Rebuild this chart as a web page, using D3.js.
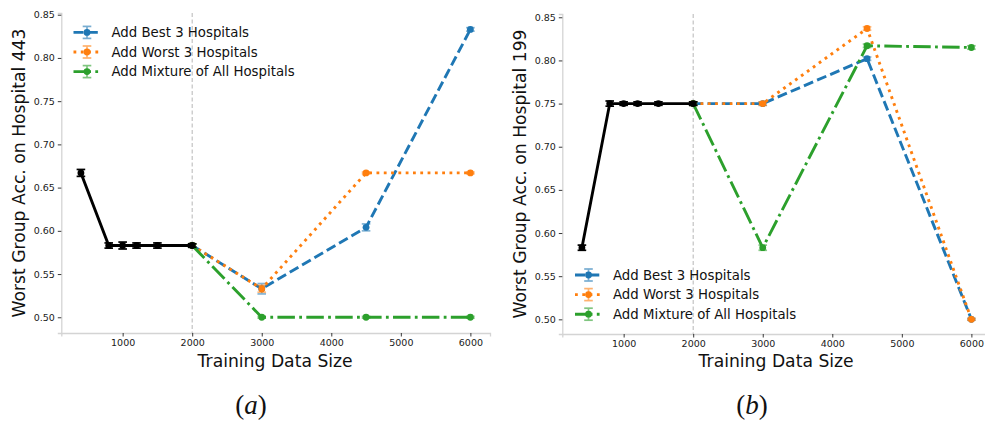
<!DOCTYPE html>
<html><head><meta charset="utf-8">
<script src="https://cdn.jsdelivr.net/npm/d3@7"></script>
<style>body{margin:0;background:#fff;} svg{display:block;}</style>
</head><body>
<svg id="chart" width="985" height="422"></svg>
<script>
// ---------- DATA ----------
const sizesBase = [400, 800, 1000, 1200, 1500, 2000];
const sizesAdd = [2000, 3000, 4500, 6000];
const xTicks = [1000, 2000, 3000, 4000, 5000, 6000];
const yTicks = [0.50, 0.55, 0.60, 0.65, 0.70, 0.75, 0.80, 0.85];
const seriesNames = ["Add Best 3 Hospitals", "Add Worst 3 Hospitals", "Add Mixture of All Hospitals"];

// Panel (a): Hospital 443
const baseA = [0.667, 0.583, 0.583, 0.583, 0.583, 0.583];
const baseAErr = [0.004, 0.003, 0.004, 0.003, 0.003, 0.002];
const bestA = [0.583, 0.533, 0.604, 0.833];
const bestAErr = [0.002, 0.006, 0.004, 0.002];
const worstA = [0.583, 0.533, 0.667, 0.667];
const worstAErr = [0.002, 0.004, 0.001, 0.001];
const mixA = [0.583, 0.500, 0.500, 0.500];
const mixAErr = [0.002, 0.001, 0.001, 0.001];

// Panel (b): Hospital 199
const baseB = [0.583, 0.750, 0.750, 0.750, 0.750, 0.750];
const baseBErr = [0.003, 0.003, 0.002, 0.002, 0.002, 0.002];
const bestB = [0.750, 0.750, 0.802, 0.500];
const bestBErr = [0.002, 0.002, 0.002, 0.001];
const worstB = [0.750, 0.750, 0.837, 0.500];
const worstBErr = [0.002, 0.002, 0.002, 0.001];
const mixB = [0.750, 0.583, 0.817, 0.815];
const mixBErr = [0.002, 0.003, 0.002, 0.002];

// ---------- STYLE ----------
const colors = ["#1f77b4", "#ff7f0e", "#2ca02c"];
const dashes = ["10,4.3", "2.8,4.5", "17.5,4.3,2.8,4.3"];
const LW = 2.9;

const svg = d3.select("#chart");

function drawPanel(cfg) {
  const x = d3.scaleLinear().domain([118, 6282]).range([cfg.left, cfg.right]);
  const y = d3.scaleLinear().domain(cfg.yDomain).range([cfg.bottom, cfg.top]);
  const g = svg.append("g");

  // vertical dashed line at 2000
  g.append("line")
    .attr("x1", x(2000)).attr("x2", x(2000))
    .attr("y1", cfg.top).attr("y2", cfg.bottom)
    .attr("stroke", "#bdbdbd").attr("stroke-width", 1.1)
    .attr("stroke-dasharray", "4,2.5");

  // axes
  const xAxis = d3.axisBottom(x).tickValues(xTicks).tickFormat(d3.format("d")).tickSize(3.5).tickPadding(3);
  const yAxis = d3.axisLeft(y).tickValues(yTicks).tickFormat(d3.format(".2f")).tickSize(3.5).tickPadding(3);
  const gx = g.append("g").attr("transform", `translate(0,${cfg.bottom})`).call(xAxis);
  const gy = g.append("g").attr("transform", `translate(${cfg.left},0)`).call(yAxis);
  [gx, gy].forEach(a => {
    a.select(".domain").attr("stroke", "#d4d4d4").attr("stroke-width", 1.3);
    a.selectAll(".tick line").attr("stroke", "#222").attr("stroke-width", 0.9);
    a.selectAll(".tick text").attr("font-family", "DejaVu Sans").attr("font-size", 9.5).attr("fill", "#1a1a1a");
  });

  // axis labels
  g.append("text").attr("x", (cfg.left + cfg.right) / 2 - 0.5).attr("y", 367)
    .attr("text-anchor", "middle").attr("font-family", "DejaVu Sans").attr("font-size", 17.2)
    .attr("fill", "#111").text("Training Data Size");
  g.append("text")
    .attr("transform", `translate(${cfg.left - 36},${(cfg.top + cfg.bottom) / 2}) rotate(-90)`)
    .attr("text-anchor", "middle").attr("font-family", "DejaVu Sans").attr("font-size", 17.2)
    .attr("fill", "#111").text(cfg.ylabel);

  // series
  const sets = [
    {xs: sizesAdd, ys: cfg.best, es: cfg.bestErr, color: colors[0], dash: dashes[0], errOp: 0.55},
    {xs: sizesAdd, ys: cfg.worst, es: cfg.worstErr, color: colors[1], dash: dashes[1], errOp: 0.55},
    {xs: sizesAdd, ys: cfg.mix, es: cfg.mixErr, color: colors[2], dash: dashes[2], errOp: 0.55},
    {xs: sizesBase, ys: cfg.base, es: cfg.baseErr, color: "#000", dash: null, errOp: 1}
  ];
  const line = d3.line().x(d => x(d[0])).y(d => y(d[1]));
  sets.forEach(s => {
    const pts = s.xs.map((v, i) => [v, s.ys[i], s.es[i]]);
    const sg = g.append("g");
    sg.append("path").attr("d", line(pts)).attr("fill", "none")
      .attr("stroke", s.color).attr("stroke-width", LW)
      .attr("stroke-dasharray", s.dash);
    sg.selectAll("circle").data(pts).enter().append("circle")
      .attr("cx", d => x(d[0])).attr("cy", d => y(d[1])).attr("r", 3.4).attr("fill", s.color);
    const eb = sg.selectAll("g.eb").data(pts).enter().append("g").attr("opacity", s.errOp);
    eb.append("line").attr("x1", d => x(d[0])).attr("x2", d => x(d[0]))
      .attr("y1", d => y(d[1] - d[2])).attr("y2", d => y(d[1] + d[2]))
      .attr("stroke", s.color).attr("stroke-width", 1.7);
    [-1, 1].forEach(sgn => {
      eb.append("line").attr("x1", d => x(d[0]) - 4.3).attr("x2", d => x(d[0]) + 4.3)
        .attr("y1", d => y(d[1] + sgn * d[2])).attr("y2", d => y(d[1] + sgn * d[2]))
        .attr("stroke", s.color).attr("stroke-width", 1.7);
    });
  });

  // legend
  const lg = g.append("g");
  seriesNames.forEach((name, i) => {
    const cy = cfg.legendY + i * 19.6;
    const x0 = cfg.legendX, x1 = cfg.legendX + 27, xm = (x0 + x1) / 2;
    lg.append("line").attr("x1", x0).attr("x2", x1).attr("y1", cy).attr("y2", cy)
      .attr("stroke", colors[i]).attr("stroke-width", LW).attr("stroke-dasharray", dashes[i]);
    const e = lg.append("g").attr("opacity", 0.6);
    e.append("line").attr("x1", xm).attr("x2", xm).attr("y1", cy - 6).attr("y2", cy + 6)
      .attr("stroke", colors[i]).attr("stroke-width", 1.7);
    [-6, 6].forEach(o => e.append("line").attr("x1", xm - 4.3).attr("x2", xm + 4.3)
      .attr("y1", cy + o).attr("y2", cy + o).attr("stroke", colors[i]).attr("stroke-width", 1.7));
    lg.append("circle").attr("cx", xm).attr("cy", cy).attr("r", 3.4).attr("fill", colors[i]);
    lg.append("text").attr("x", x1 + 11).attr("y", cy + 4.7)
      .attr("font-family", "DejaVu Sans").attr("font-size", 13.3).attr("fill", "#111").text(name);
  });

  // panel caption
  const cap = g.append("text").attr("x", cfg.capX).attr("y", 414)
    .attr("text-anchor", "middle").attr("font-family", "Liberation Serif").attr("font-size", 27).attr("fill", "#111");
  cap.append("tspan").text("(");
  cap.append("tspan").attr("font-style", "italic").text(cfg.capLetter);
  cap.append("tspan").text(")");
}

drawPanel({
  left: 61.3, right: 490, top: 13, bottom: 333, yDomain: [0.4818, 0.852],
  ylabel: "Worst Group Acc. on Hospital 443",
  base: baseA, baseErr: baseAErr, best: bestA, bestErr: bestAErr,
  worst: worstA, worstErr: worstAErr, mix: mixA, mixErr: mixAErr,
  legendX: 73.5, legendY: 32.4, capX: 251, capLetter: "a"
});
drawPanel({
  left: 562.3, right: 991, top: 14, bottom: 334, yDomain: [0.483, 0.8538],
  ylabel: "Worst Group Acc. on Hospital 199",
  base: baseB, baseErr: baseBErr, best: bestB, bestErr: bestBErr,
  worst: worstB, worstErr: worstBErr, mix: mixB, mixErr: mixBErr,
  legendX: 575, legendY: 275, capX: 752, capLetter: "b"
});
</script>
</body></html>
